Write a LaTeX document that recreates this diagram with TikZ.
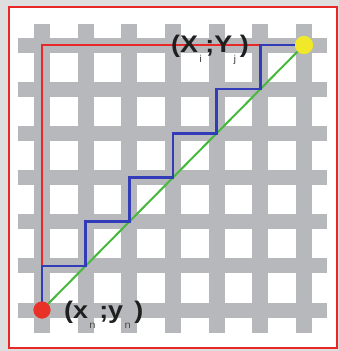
\documentclass[tikz,border=0pt]{standalone}
\usepackage{fontspec}
\setmainfont{Liberation Sans}
\newcommand{\lsub}[1]{\kern1.2pt\raisebox{-0.45em}{\fontsize{10}{10}\selectfont\mdseries\color{black!70}#1}\kern3.2pt}
\begin{document}
\begin{tikzpicture}[x=1pt,y=-1pt,
  bar/.style={draw=none,fill=gridgray},
  lbl/.style={font=\fontsize{24}{25}\selectfont\bfseries,inner sep=0pt,text=black!88,anchor=base west},
  dot/.style={circle,inner sep=0pt,minimum size=#1}]
\definecolor{gridgray}{RGB}{182,184,187}
\definecolor{bggray}{RGB}{222,222,222}
\definecolor{bordred}{RGB}{232,40,40}
\definecolor{pathblue}{RGB}{50,60,185}
\definecolor{pathgreen}{RGB}{70,185,60}
\definecolor{dotyellow}{RGB}{240,232,40}
\definecolor{dotred}{RGB}{232,50,40}
\useasboundingbox (0,0) rectangle (339,351);
\fill[bggray] (0,0) rectangle (339,351);
\draw[bordred,line width=2pt,fill=white] (9,7) rectangle (337,348);
% grid bars
\foreach \x in {42,85.67,129.33,173,216.67,260.33,304}
  \fill[bar] (\x-8,24) rectangle (\x+8,333);
\foreach \y in {45,89.17,133.33,177.5,221.67,265.83,310}
  \fill[bar] (18,\y-7.5) rectangle (327,\y+7.5);
% endpoints
\node[dot=17pt,fill=dotred] (s) at (42,310) {};
\node[dot=18pt,fill=dotyellow] (e) at (304,45) {};
\coordinate (c) at (42,45);
% red path
\draw[bordred,line width=1.8pt] (s.center) -- (c) -- (e.center);
% green line
\draw[pathgreen,line width=2pt] (s.center) -- (e.center);
% blue staircase
\draw[pathblue,line width=2.6pt,line join=miter]
  (s.center) |- (85.67,265.83) |- (129.33,221.67) |- (173,177.5) |- (216.67,133.33)
  |- (260.33,89.17) |- (e.center);
\node[dot=17pt,fill=dotred] at (s) {};
\node[dot=18pt,fill=dotyellow] at (e) {};
% labels
\node[lbl] (lij) at (171,52) {\scalebox{1.12}[1]{(X\lsub{i};Y\lsub{j})}};
\node[lbl] (ln) at (64,318) {\scalebox{1.12}[1]{(x\lsub{n};y\lsub{n})}};
\end{tikzpicture}
\end{document}
